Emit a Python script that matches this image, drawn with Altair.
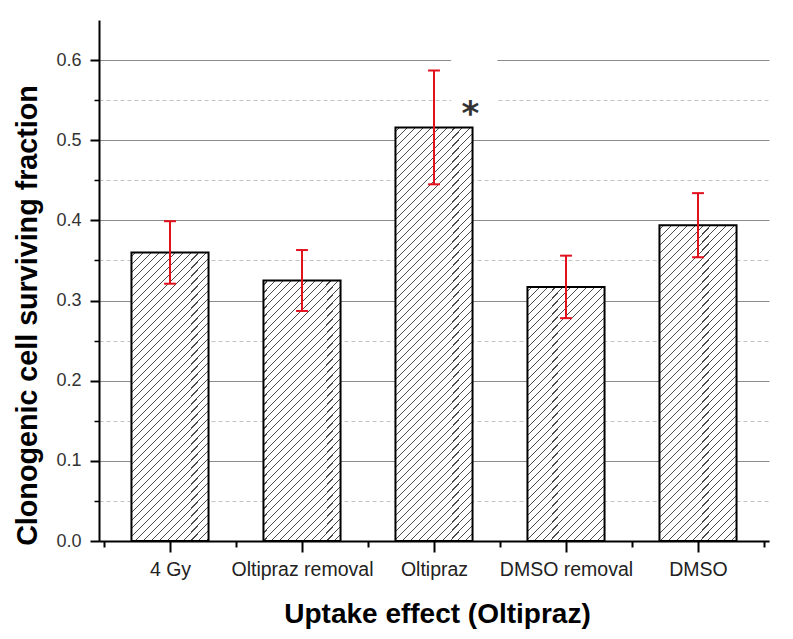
import json
import altair as alt

# ---------------- data ----------------
categories = ["4 Gy", "Oltipraz removal", "Oltipraz", "DMSO removal", "DMSO"]
means = [0.360, 0.325, 0.516, 0.317, 0.394]
errors = [0.039, 0.038, 0.071, 0.039, 0.040]
markers = ["", "", "*", "", ""]

y_tick_values = [0.0, 0.05, 0.1, 0.15, 0.2, 0.25, 0.3, 0.35, 0.4, 0.45, 0.5, 0.55, 0.6]
x_tick_values = [-0.5, 0, 0.5, 1, 1.5, 2, 2.5, 3, 3.5, 4, 4.5]

# ---------------- layout / style ----------------
Y_MAX = 0.65
PLOT_W, PLOT_H = 670, 521
BAR_HALF = 0.292
CAP_HALF = 0.045
RED = "#e3101d"
HATCH = "#4a4a4a"
FONT = "Liberation Sans"


def hatch_gradient(value):
    """Linear gradient with hard stops -> 45 degree '///' hatching."""
    w = 2 * BAR_HALF * PLOT_W / len(categories)
    h = value / Y_MAX * PLOT_H
    r = w / h
    s = (r + 1) / (r * r + 1)
    span = w + h
    period, line = 8.0, 1.1
    stops = [{"offset": 0, "color": "white"}]
    pos = period / 2
    while pos < span:
        a = round(pos / span, 5)
        b = round(min((pos + line) / span, 1), 5)
        stops += [
            {"offset": a, "color": "white"},
            {"offset": a, "color": HATCH},
            {"offset": b, "color": HATCH},
            {"offset": b, "color": "white"},
        ]
        pos += period
    stops.append({"offset": 1, "color": "white"})
    return {"gradient": "linear", "x1": 0, "y1": 0, "x2": round(s * r, 5), "y2": round(s, 5), "stops": stops}


rows = []
for i, (c, m, e, mk) in enumerate(zip(categories, means, errors, markers)):
    rows.append({"cat": c, "idx": i, "mean": m, "lo": m - e, "hi": m + e,
                 "star": mk, "grad": hatch_gradient(m)})

base = alt.Chart(alt.Data(values=rows))

xs = alt.Scale(domain=[-0.5, len(categories) - 0.5], nice=False, zero=False)
ys = alt.Scale(domain=[0, Y_MAX], nice=False, zero=False)

minor_y = "round(datum.value*100) % 10 == 5"
minor_x = "datum.value != round(datum.value)"

y_axis = alt.Axis(
    values=y_tick_values,
    title="Clonogenic cell surviving fraction",
    labelExpr=f"{minor_y} ? '' : format(datum.value, '.1f')",
    labelFont=FONT, labelFontSize=18, labelColor="#333333", labelPadding=9,
    domainColor="black", domainWidth=2,
    tickColor="black",
    tickSize=alt.condition(minor_y, alt.value(5), alt.value(9)),
    tickWidth=alt.condition(minor_y, alt.value(1.5), alt.value(2)),
    grid=True,
    gridColor=alt.condition(minor_y, alt.value("#c4c4c4"), alt.value("#8c8c8c")),
    gridDash=alt.condition(minor_y, alt.value([4, 3]), alt.value([])),
    gridWidth=1,
    titleFont=FONT, titleFontSize=28.7, titleFontWeight="bold", titleColor="black",
    titleAngle=270, titleX=-63, titleY=295, titleAlign="center", titleBaseline="alphabetic",
    labelOverlap=False,
)

x_axis = alt.Axis(
    values=x_tick_values,
    title="Uptake effect (Oltipraz)",
    labelExpr=f"{minor_x} ? '' : {json.dumps(categories)}[round(datum.value)]",
    labelFont=FONT, labelFontSize=19.5, labelColor="#222222", labelPadding=8,
    labelOverlap=False, labelFlush=False, labelBound=False,
    domainColor="black", domainWidth=2,
    tickColor="black",
    tickSize=alt.condition(minor_x, alt.value(6), alt.value(11)),
    tickWidth=2,
    grid=False,
    titleFont=FONT, titleFontSize=28, titleFontWeight="bold", titleColor="black",
    titleX=PLOT_W / 2 + 3, titleY=81, titleAlign="center", titleBaseline="alphabetic",
)


def X(field):
    return alt.X(field, scale=xs, axis=x_axis)


def Y(field):
    return alt.Y(field, scale=ys, axis=y_axis)


starred = base.transform_filter("datum.star != ''")

bars = base.transform_calculate(
    bx1=f"datum.idx - {BAR_HALF}", bx2=f"datum.idx + {BAR_HALF}", zero="0"
).mark_bar(stroke="black", strokeWidth=2, orient="vertical").encode(
    x=X("bx1:Q"), x2="bx2:Q",
    y=Y("mean:Q"), y2="zero:Q",
    fill=alt.Fill("grad:N", scale=None, legend=None),
)

gap = starred.transform_calculate(
    gx1="datum.idx + 0.13", gx2="datum.idx + 0.48",
    gy1="datum.mean + 0.014", gy2="datum.mean + 0.105",
).mark_rect(fill="white").encode(
    x=X("gx1:Q"), x2="gx2:Q",
    y=Y("gy1:Q"), y2="gy2:Q",
)

err = base.mark_rule(color=RED, strokeWidth=2).encode(
    x=X("idx:Q"),
    y=Y("lo:Q"), y2="hi:Q",
)

caps_calc = base.transform_calculate(
    cx1=f"datum.idx - {CAP_HALF}", cx2=f"datum.idx + {CAP_HALF}"
)
cap_lo = caps_calc.mark_rule(color=RED, strokeWidth=2).encode(
    x=X("cx1:Q"), x2="cx2:Q",
    y=Y("lo:Q"),
)
cap_hi = caps_calc.mark_rule(color=RED, strokeWidth=2).encode(
    x=X("cx1:Q"), x2="cx2:Q",
    y=Y("hi:Q"),
)

star = starred.transform_calculate(
    sx="datum.idx + 0.275", sy="datum.mean + 0.003"
).mark_text(
    font="DejaVu Sans", fontSize=34, fontWeight="bold", color="#333333",
    align="center", baseline="alphabetic",
).encode(
    x=X("sx:Q"),
    y=Y("sy:Q"),
    text="star:N",
)

chart = alt.layer(bars, gap, err, cap_lo, cap_hi, star).properties(
    width=PLOT_W, height=PLOT_H,
    autosize=alt.AutoSizeParams(type="none"),
    padding={"left": 99, "top": 20, "right": 24, "bottom": 98},
    background="white",
).configure_view(stroke=None)

chart.save("out.html", embed_options={"renderer": "svg", "actions": False})
